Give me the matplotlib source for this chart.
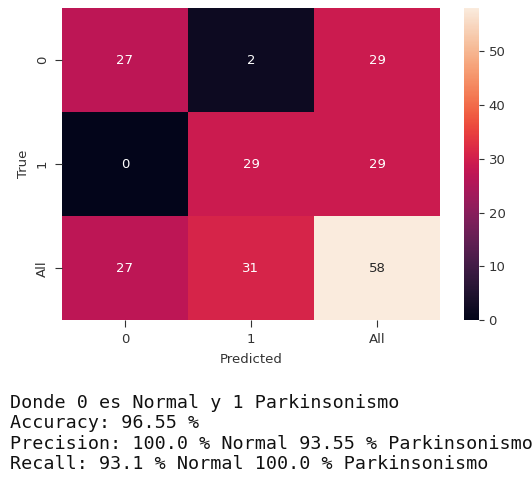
import matplotlib
matplotlib.use("Agg")
import matplotlib.pyplot as plt
import seaborn as sns
import pandas as pd
import numpy as np

# confusion matrix with margins (pd.crosstab style)
labels      = ["0", "1", "All"]
row_0       = [27, 2, 29]
row_1       = [0, 29, 29]
row_all     = [27, 31, 58]

report_lines = [
    "Donde 0 es Normal y 1 Parkinsonismo",
    "Accuracy: 96.55 %",
    "Precision: 100.0 % Normal 93.55 % Parkinsonismo",
    "Recall: 93.1 % Normal 100.0 % Parkinsonismo",
]

cm = pd.DataFrame([row_0, row_1, row_all], index=labels, columns=labels)
cm.index.name = "True"
cm.columns.name = "Predicted"

fig = plt.figure(figsize=(5.32, 4.83), dpi=100)
ax  = fig.add_axes([0.1165, 0.337, 0.7105, 0.646])
cax = fig.add_axes([0.872, 0.337, 0.028, 0.646])

sns.heatmap(cm, annot=True, fmt="d", ax=ax, cbar_ax=cax,
            annot_kws={"fontsize": 9.5})

ax.tick_params(labelsize=9.5, colors="#333333", labelcolor="#333333",
               length=5, pad=4.5)
ax.set_yticklabels(labels, rotation=90, va="center")
ax.set_xticklabels(labels, rotation=0)
ax.set_xlabel("Predicted", fontsize=9.5, color="#333333", labelpad=5)
ax.set_ylabel("True", fontsize=9.5, color="#333333")

cax.tick_params(labelsize=9.5, colors="#333333", labelcolor="#333333")
cax.set_yticks([0, 10, 20, 30, 40, 50])

# printed report below the figure
y0 = 1 - 403 / 483
step = 20.3 / 483
for i, line in enumerate(report_lines):
    fig.text(10 / 532, y0 - i * step, line, family="DejaVu Sans Mono",
             fontsize=13.2, va="center", ha="left", color="#111111")

fig.savefig("out.png", dpi=100)
